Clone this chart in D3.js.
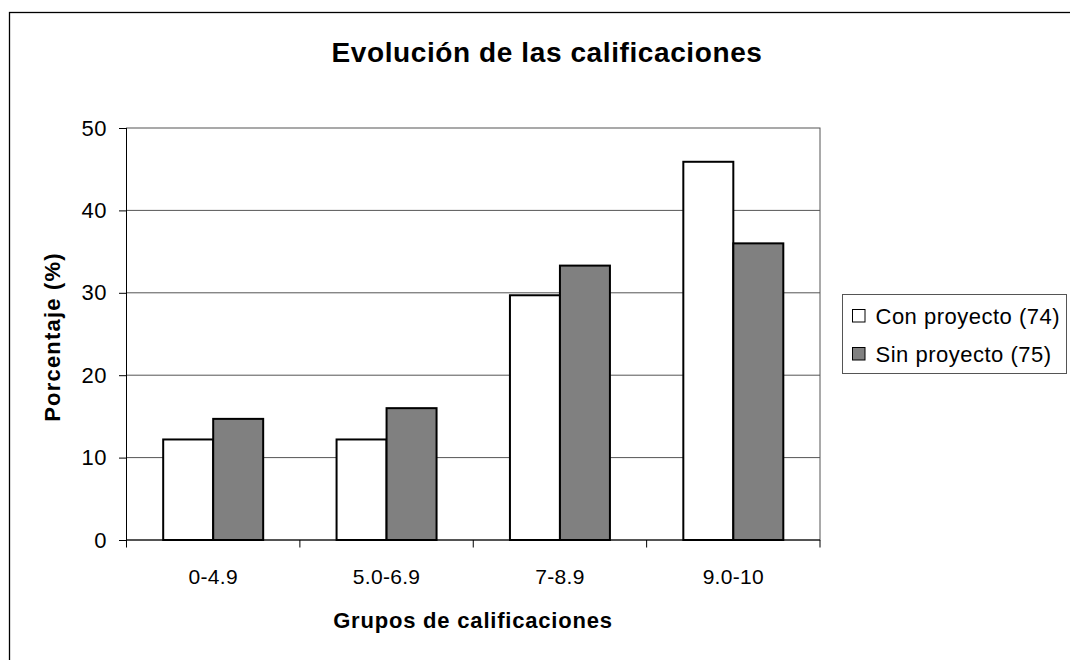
<!DOCTYPE html>
<html>
<head>
<meta charset="utf-8">
<script src="https://cdn.jsdelivr.net/npm/d3@7"></script>
<style>
  html, body { margin: 0; padding: 0; background: #fff; }
  svg { display: block; font-family: "Liberation Sans", Arial, sans-serif; }
</style>
</head>
<body>
<svg id="chart" width="1070" height="660"></svg>
<script>
const categories = ["0-4.9", "5.0-6.9", "7-8.9", "9.0-10"];
const seriesNames = ["Con proyecto (74)", "Sin proyecto (75)"];
const conProyecto = [12.2, 12.2, 29.7, 45.9];
const sinProyecto = [14.7, 16.0, 33.3, 36.0];
const yTicks = [0, 10, 20, 30, 40, 50];
const seriesColors = ["#ffffff", "#808080"];

const svg = d3.select("#chart");
const plot = { left: 126.5, right: 820, top: 128, bottom: 540 };

// outer chart border (only top/left visible in frame)
svg.append("rect")
  .attr("x", 9.5).attr("y", 12.5)
  .attr("width", 1200).attr("height", 800)
  .attr("fill", "#fff").attr("stroke", "#000").attr("stroke-width", 1.3);

const x0 = d3.scaleBand().domain(categories).range([plot.left, plot.right]).paddingInner(0).paddingOuter(0);
const x1 = d3.scaleBand().domain(seriesNames).range([0, x0.bandwidth()]).paddingOuter(0.734).paddingInner(0);
const y = d3.scaleLinear().domain([0, 50]).range([plot.bottom, plot.top]);

// plot area border
svg.append("rect")
  .attr("x", plot.left).attr("y", plot.top)
  .attr("width", plot.right - plot.left).attr("height", plot.bottom - plot.top)
  .attr("fill", "none").attr("stroke", "#555").attr("stroke-width", 1);

// gridlines
svg.append("g").selectAll("line").data(yTicks.filter(d => d > 0 && d < 50)).join("line")
  .attr("x1", plot.left).attr("x2", plot.right)
  .attr("y1", d => y(d)).attr("y2", d => y(d))
  .attr("stroke", "#555").attr("stroke-width", 1);

// bars
const data = categories.map((c, i) => ({ cat: c, vals: [conProyecto[i], sinProyecto[i]] }));
const groups = svg.append("g").selectAll("g").data(data).join("g")
  .attr("transform", d => `translate(${x0(d.cat)},0)`);
groups.selectAll("rect").data(d => d.vals.map((v, j) => ({ name: seriesNames[j], v, j }))).join("rect")
  .attr("x", d => x1(d.name))
  .attr("y", d => y(d.v))
  .attr("width", x1.bandwidth())
  .attr("height", d => y(0) - y(d.v))
  .attr("fill", d => seriesColors[d.j])
  .attr("stroke", "#000").attr("stroke-width", 2);

// y axis
const yAxis = d3.axisLeft(y).tickValues(yTicks).tickSize(7.5).tickPadding(12);
const gy = svg.append("g").attr("transform", `translate(${plot.left},0)`).call(yAxis);
gy.select(".domain").attr("stroke", "#000").attr("d", `M0,${plot.top}V${plot.bottom}`);
gy.selectAll(".tick line").attr("stroke", "#000");
gy.selectAll(".tick text").attr("font-size", 22).attr("fill", "#000")
  .attr("font-family", "Liberation Sans, Arial, sans-serif").attr("letter-spacing", 0.5);

// x axis
const gx = svg.append("g").attr("transform", `translate(0,${plot.bottom})`);
gx.append("line").attr("x1", plot.left).attr("x2", plot.right).attr("y1", 0).attr("y2", 0).attr("stroke", "#000");
const boundaries = categories.map(c => x0(c)).concat([x0(categories[categories.length - 1]) + x0.bandwidth()]);
gx.selectAll("line.tk").data(boundaries).join("line").attr("class", "tk")
  .attr("x1", d => d).attr("x2", d => d).attr("y1", 0).attr("y2", 7.5).attr("stroke", "#000");
gx.selectAll("text").data(categories).join("text")
  .attr("x", d => x0(d) + x0.bandwidth() / 2)
  .attr("y", 44)
  .attr("text-anchor", "middle")
  .attr("font-size", 21).attr("fill", "#000").attr("letter-spacing", 0.3)
  .text(d => d);

// title
svg.append("text").attr("x", 547).attr("y", 62).attr("text-anchor", "middle")
  .attr("font-size", 28).attr("font-weight", "bold").attr("letter-spacing", 0.6)
  .text("Evolución de las calificaciones");

// axis titles
svg.append("text").attr("x", 473).attr("y", 628).attr("text-anchor", "middle")
  .attr("font-size", 22).attr("font-weight", "bold").attr("letter-spacing", 0.8)
  .text("Grupos de calificaciones");
svg.append("text").attr("transform", "translate(60,337) rotate(-90)").attr("text-anchor", "middle")
  .attr("font-size", 22).attr("font-weight", "bold").attr("letter-spacing", 1.2)
  .text("Porcentaje (%)");

// legend
const lg = svg.append("g").attr("transform", "translate(842.5,294.5)");
lg.append("rect").attr("width", 224).attr("height", 79).attr("fill", "#fff").attr("stroke", "#555").attr("stroke-width", 1);
const items = lg.selectAll("g").data(seriesNames).join("g")
  .attr("transform", (d, i) => `translate(0,${29 + i * 38})`);
items.append("rect").attr("x", 10).attr("y", -14).attr("width", 12.5).attr("height", 12.5)
  .attr("fill", (d, i) => seriesColors[i]).attr("stroke", "#000").attr("stroke-width", 1);
items.append("text").attr("x", 33).attr("y", 0).attr("font-size", 22).attr("letter-spacing", 0.5).text(d => d);
</script>
</body>
</html>
